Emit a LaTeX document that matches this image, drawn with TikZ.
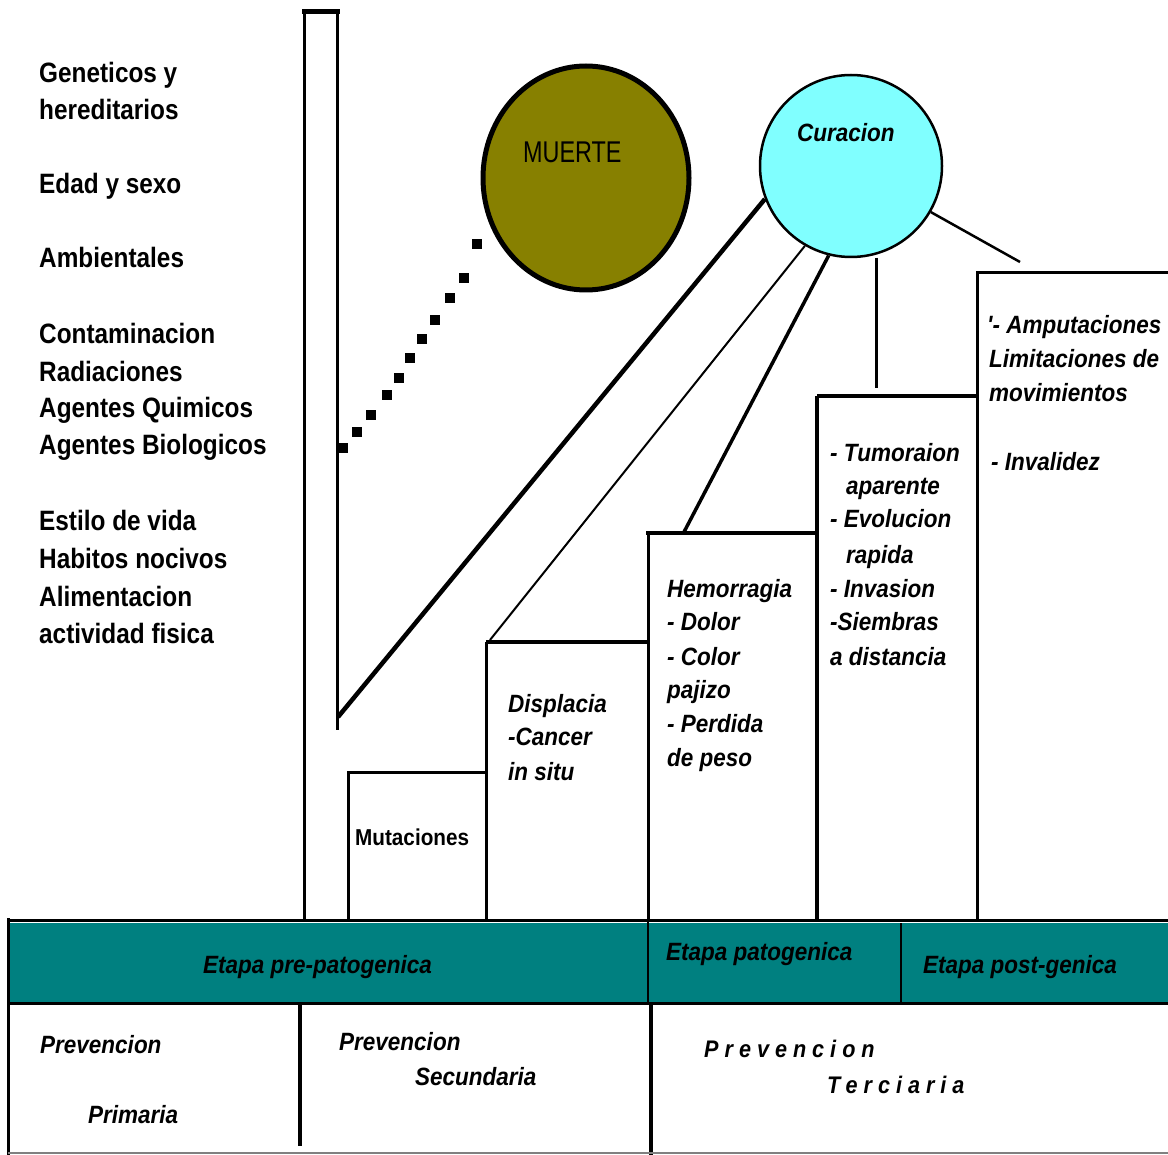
\documentclass[tikz,border=0pt]{standalone}
\usepackage{fontspec}
\usetikzlibrary{shapes.geometric}
\newfontfamily\lblfont[FakeStretch=0.87]{Liberation Sans}
\newfontfamily\boxfont[FakeStretch=0.9]{Liberation Sans}
\newfontfamily\mfont[FakeStretch=0.78]{Liberation Sans}
\newfontfamily\spfont[FakeStretch=0.9,LetterSpace=25]{Liberation Sans}
\definecolor{olivefill}{RGB}{135,128,0}
\definecolor{cyanfill}{RGB}{128,255,255}
\definecolor{tealband}{RGB}{0,128,128}
\begin{document}
\begin{tikzpicture}[x=1pt,y=-1pt,
  lbl/.style={anchor=base west,inner sep=0,font=\lblfont\bfseries\fontsize{28}{34}\selectfont},
  bx/.style={anchor=base west,inner sep=0,font=\boxfont\bfseries\itshape\fontsize{25}{30}\selectfont},
  sp/.style={anchor=base west,inner sep=0,font=\spfont\bfseries\itshape\fontsize{24}{30}\selectfont},
  edge/.style={line width=3pt},
  thick edge/.style={line width=4.5pt}]
\useasboundingbox (0,0) rectangle (1168,1155);
\fill[white] (0,0) rectangle (1168,1155);

% left labels
\node[lbl] (g1) at (39,83) {Geneticos y};
\node[lbl] (g2) at (39,120) {hereditarios};
\node[lbl] (ed) at (39,194) {Edad y sexo};
\node[lbl] (am) at (39,268) {Ambientales};
\node[lbl] (co) at (39,344) {Contaminacion};
\node[lbl] (ra) at (39,382) {Radiaciones};
\node[lbl] (aq) at (39,418) {Agentes Quimicos};
\node[lbl] (ab) at (39,455) {Agentes Biologicos};
\node[lbl] (es) at (39,530) {Estilo de vida};
\node[lbl] (hn) at (39,568) {Habitos nocivos};
\node[lbl] (al) at (39,606) {Alimentacion};
\node[lbl] (af) at (39,643) {actividad fisica};

% tall bar
\draw[edge] (304,920) -- (304,12);
\draw[edge] (337,12) -- (337,730);
\draw[line width=5pt] (302,12) -- (340,12);

% staircase boxes
\draw[edge] (348,920) -- (348,772) -- (486,772);
\draw[edge] (486,920) -- (486,642);
\draw[thick edge] (486,642) -- (648,642);
\draw[edge] (648,920) -- (648,533);
\draw[thick edge] (646,533) -- (817,533);
\draw[thick edge] (817,920) -- (817,396);
\draw[thick edge] (817,396) -- (977,396);
\draw[edge] (977,920) -- (977,273) -- (1168,273);

% circles
\node[ellipse,draw,line width=5pt,fill=olivefill,minimum width=206,minimum height=224,inner sep=0] (muerte) at (586,178) {};
\node[anchor=base west,inner sep=0,font=\mfont\fontsize{30}{36}\selectfont] (mt) at (523,163) {MUERTE};
\node[circle,draw,line width=2.5pt,fill=cyanfill,minimum size=182,inner sep=0] (cur) at (851,166) {};
\node[bx] (ct) at (797,142) {Curacion};

% dotted link to MUERTE
\foreach \p in {(343,448),(357,432),(371,415),(387,395),(399,378),(410,358),(422,339),(435,320),(450,298),(464,278),(477,244)}
  \fill \p ++(-5,-5) rectangle ++(10,10);

% connectors from Curacion
\coordinate (d1) at (338,717);
\coordinate (d2) at (490,640);
\coordinate (d3) at (684,532);
\coordinate (d4) at (877,388);
\coordinate (d5) at (1020,262);
\draw[line width=4.5pt] (cur.201) -- (d1);
\draw[line width=2pt] (cur.240) -- (d2);
\draw[line width=3.5pt] (cur.256) -- (d3);
\draw[line width=2.5pt] ([yshift=-3]cur.286) -- (cur.286 |- d4);
\draw[line width=2.5pt] (cur.330) -- (d5);

% box texts
\node[bx,font=\boxfont\bfseries\fontsize{23}{28}\selectfont] (mu) at (355,845) {Mutaciones};
\node[bx] (s1) at (508,712) {Displacia};
\node[bx] (s2) at (508,745) {-Cancer};
\node[bx] (s3) at (508,780) {in situ};
\node[bx] (h1) at (667,597) {Hemorragia};
\node[bx] (h2) at (667,630) {- Dolor};
\node[bx] (h3) at (667,665) {- Color};
\node[bx] (h4) at (667,698) {pajizo};
\node[bx] (h5) at (667,732) {- Perdida};
\node[bx] (h6) at (667,766) {de peso};
\node[bx] (t1) at (830,462) {- Tumoraion};
\node[bx] (t2) at (846,495) {aparente};
\node[bx] (t3) at (830,528) {- Evolucion};
\node[bx] (t4) at (846,563) {rapida};
\node[bx] (t5) at (830,597) {- Invasion};
\node[bx] (t6) at (830,630) {-Siembras};
\node[bx] (t7) at (830,665) {a distancia};
\node[bx] (a1) at (987,334) {'- Amputaciones};
\node[bx] (a2) at (989,368) {Limitaciones de};
\node[bx] (a3) at (989,402) {movimientos};
\node[bx] (a4) at (991,471) {- Invalidez};

% bottom band
\fill[tealband] (8,923) rectangle (1168,1003);
\draw[line width=3pt] (8,920) -- (1168,920);
\draw[line width=3pt] (8,1003) -- (1168,1003);
\draw[line width=3pt] (8,918) -- (8,1155);
\draw[line width=2pt] (648,920) -- (648,1003);
\draw[line width=1.5pt] (901,923) -- (901,1003);
\draw[line width=4pt] (300,1003) -- (300,1146);
\draw[line width=4pt] (651,1003) -- (651,1155);
\draw[line width=1.5pt,gray] (8,1153) -- (1168,1153);

\node[bx] (e1) at (203,973) {Etapa pre-patogenica};
\node[bx] (e2) at (666,960) {Etapa patogenica};
\node[bx] (e3) at (923,973) {Etapa post-genica};

\node[bx] (p1) at (40,1053) {Prevencion};
\node[bx] (p2) at (88,1123) {Primaria};
\node[bx] (p3) at (339,1050) {Prevencion};
\node[bx] (p4) at (415,1085) {Secundaria};
\node[sp] (p5) at (704,1057) {Prevencion};
\node[sp] (p6) at (827,1093) {Terciaria};
\end{tikzpicture}
\end{document}
